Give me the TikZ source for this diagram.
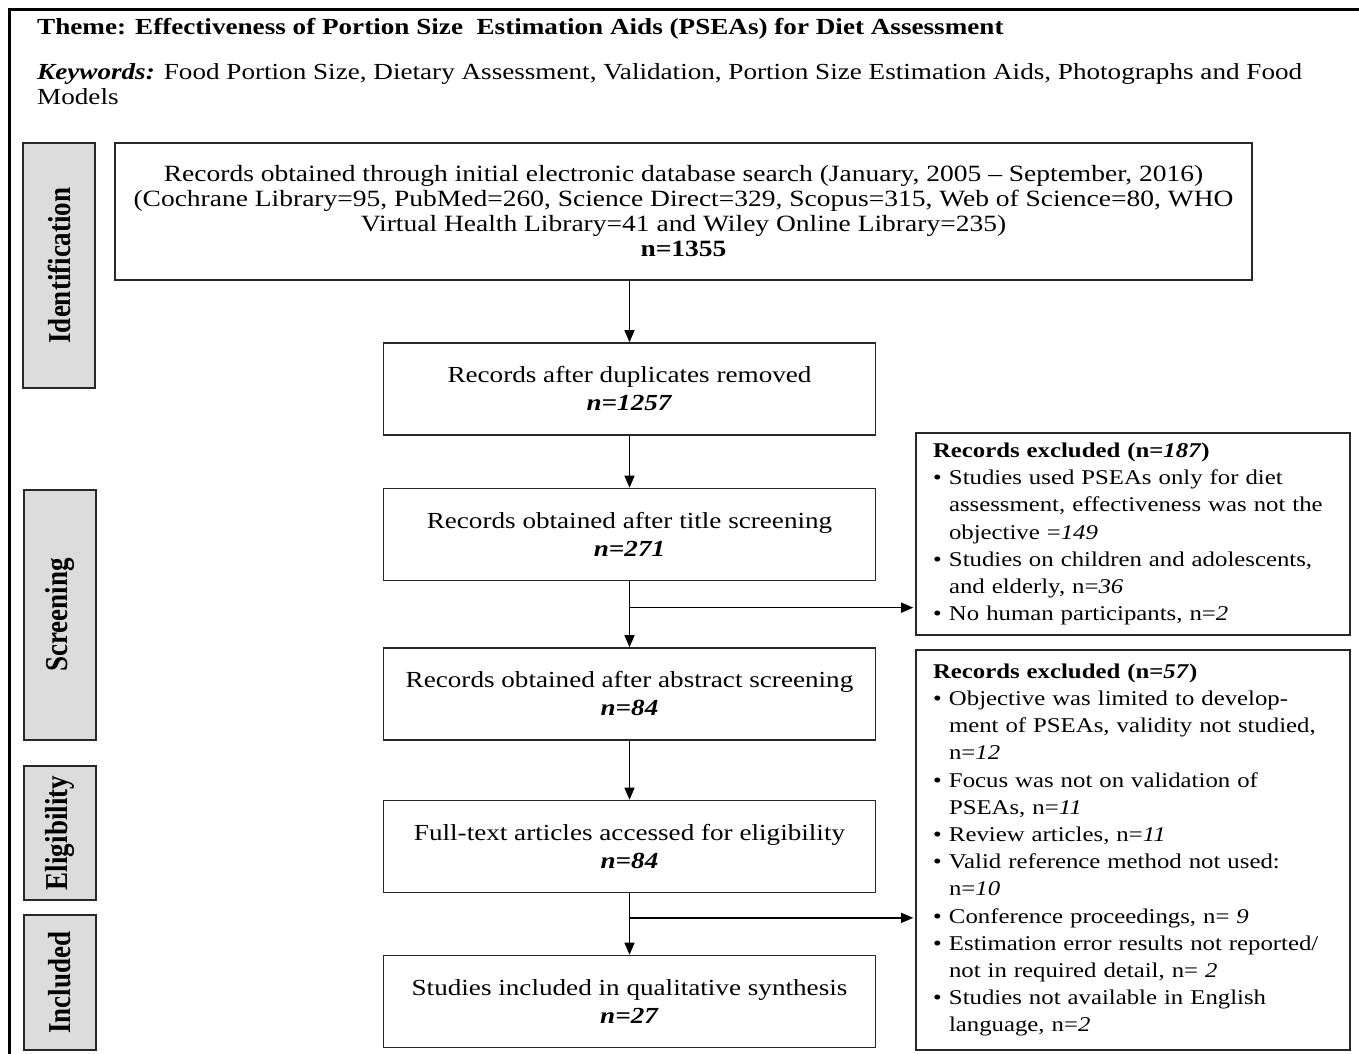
\documentclass[tikz,border=0pt]{standalone}
\usepackage{fontspec}
\usepackage{graphicx}
\setmainfont{Liberation Serif}[FakeStretch=1.18]
\newfontfamily\phasefont{Liberation Serif}
\usetikzlibrary{arrows.meta}
\definecolor{phasegray}{RGB}{220,220,220}
\definecolor{edgegray}{RGB}{40,40,40}
\tikzstyle{arrow} = [line width=1.3pt, -{Triangle[length=12pt,width=10pt]}]
\tikzstyle{block} = [rectangle, draw=edgegray, line width=1.6pt, align=center,
minimum width=492pt, minimum height=92pt, inner sep=0pt, font=\fontsize{23}{28}\selectfont]
\tikzstyle{phase} = [rectangle, draw=edgegray, line width=2pt, fill=phasegray, rotate=90,
inner sep=0pt, minimum height=72pt, font=\phasefont\bfseries\fontsize{27}{30}\selectfont]
\tikzstyle{excluded} = [rectangle, draw=edgegray, line width=1.6pt, align=left,
text width=400pt, inner xsep=17pt, inner ysep=0pt, minimum width=434pt, font=\fontsize{21}{27.2}\selectfont]
\newcommand{\exbullet}{\makebox[16pt][l]{\textbullet}}
\newcommand{\exindent}{\hspace*{16pt}}
\newcommand{\stretched}[1]{\scalebox{1}[1.18]{#1}}
\begin{document}
\begin{tikzpicture}[x=1pt, y=-1pt]
  \useasboundingbox (0,0) rectangle (1359,1054);
  % outer frame
  \draw[line width=3pt] (9,1070) -- (9,10) -- (1370,10);
  % heading
  \node (theme) [anchor=base west, inner sep=0pt, font=\bfseries\fontsize{23}{26}\selectfont] at (37,35)
    {Theme: Effectiveness of Portion Size \ Estimation Aids (PSEAs) for Diet Assessment};
  \node (keywords) [anchor=north west, align=left, inner sep=0pt, font=\fontsize{23}{25}\selectfont] at (37,63)
    {\textbf{\textit{Keywords:}} Food Portion Size, Dietary Assessment, Validation, Portion Size Estimation Aids, Photographs and Food\\Models};
  % phase labels
  \node (identification) [phase, minimum width=245pt] at (59,265.5) {\stretched{Identification}};
  \node (screening) [phase, minimum width=250pt] at (59.5,615) {\stretched{Screening}};
  \node (eligibility) [phase, minimum width=134pt] at (59.5,833) {\stretched{Eligibility}};
  \node (includedlabel) [phase, minimum width=135pt] at (59.5,982.5) {\stretched{Included}};
  % flow boxes
  \node (records) [block, minimum width=1137pt, minimum height=137pt, font=\fontsize{23.3}{25}\selectfont] at (683.5,211.5)
    {Records obtained through initial electronic database search (January, 2005 -- September, 2016)\\
     (Cochrane Library=95, PubMed=260, Science Direct=329, Scopus=315, Web of Science=80, WHO\\
     Virtual Health Library=41 and Wiley Online Library=235)\\
     \textbf{n=1355}};
  \node (duplicates) [block] at (629.5,389) {Records after duplicates removed\\\textbf{\textit{n=1257}}};
  \node (titlescr) [block] at (629.5,534.5) {Records obtained after title screening\\\textbf{\textit{n=271}}};
  \node (abstractscr) [block] at (629.5,694) {Records obtained after abstract screening\\\textbf{\textit{n=84}}};
  \node (fulltext) [block] at (629.5,846.5) {Full-text articles accessed for eligibility\\\textbf{\textit{n=84}}};
  \node (included) [block] at (629.5,1001.5) {Studies included in qualitative synthesis\\\textbf{\textit{n=27}}};
  % exclusion boxes
  \node (excludedone) [excluded, minimum height=202pt] at (1133,534) {%
    \textbf{Records excluded (n=\textit{187})}\\
    \exbullet Studies used PSEAs only for diet\\
    \exindent assessment, effectiveness was not the\\
    \exindent objective =\textit{149}\\
    \exbullet Studies on children and adolescents,\\
    \exindent and elderly, n=\textit{36}\\
    \exbullet No human participants, n=\textit{2}};
  \node (excludedtwo) [excluded, minimum height=400pt] at (1133,850) {%
    \textbf{Records excluded (n=\textit{57})}\\
    \exbullet Objective was limited to develop-\\
    \exindent ment of PSEAs, validity not studied,\\
    \exindent n=\textit{12}\\
    \exbullet Focus was not on validation of\\
    \exindent PSEAs, n=\textit{11}\\
    \exbullet Review articles, n=\textit{11}\\
    \exbullet Valid reference method not used:\\
    \exindent n=\textit{10}\\
    \exbullet Conference proceedings, n= \textit{9}\\
    \exbullet Estimation error results not reported/\\
    \exindent not in required detail, n= \textit{2}\\
    \exbullet Studies not available in English\\
    \exindent language, n=\textit{2}};
  % connectors
  \draw[arrow] (records.south -| duplicates.north) -- (duplicates.north);
  \draw[arrow] (duplicates) -- (titlescr);
  \draw[arrow] (titlescr) -- (abstractscr);
  \draw[arrow] (abstractscr) -- (fulltext);
  \draw[arrow] (fulltext) -- (included);
  \path (titlescr.south) -- (abstractscr.north) coordinate[pos=0.4] (splitone);
  \path (fulltext.south) -- (included.north) coordinate[pos=0.4] (splittwo);
  \draw[arrow, shorten >=2pt] (splitone) -- (splitone -| excludedone.west);
  \draw[arrow, shorten >=2pt] (splittwo) -- (splittwo -| excludedtwo.west);
\end{tikzpicture}
\end{document}
